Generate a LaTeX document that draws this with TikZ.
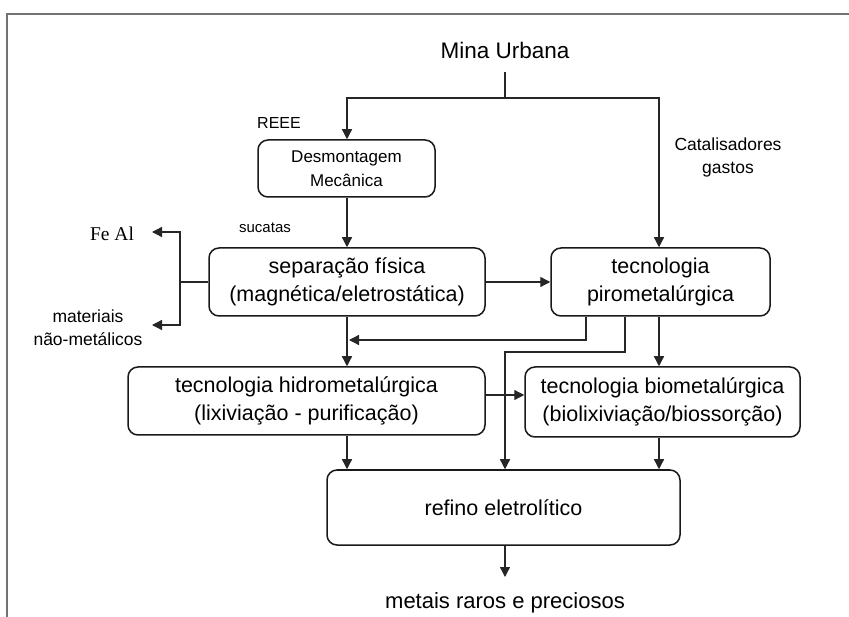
\documentclass[tikz,border=0pt]{standalone}
\usepackage{fontspec}
\setmainfont{Liberation Sans}
\newfontfamily\serifFe{Liberation Serif}
\usetikzlibrary{arrows.meta}
\begin{document}
\begin{tikzpicture}[x=1pt,y=-1pt,
  box/.style={draw=black!90,line width=1.5pt,rounded corners=10pt,align=center,inner sep=0pt,font=\fontsize{21.5}{28}\selectfont},
  smallbox/.style={box,font=\fontsize{17}{24}\selectfont},
  lbl/.style={inner sep=0pt,align=center,font=\fontsize{17.5}{23}\selectfont},
  conn/.style={draw=black!85,line width=1.3pt},
  arr/.style={conn,-{Triangle[length=10pt,width=10pt]}}]
\useasboundingbox (0,0) rectangle (849,617);
\fill[white] (0,0) rectangle (849,617);
% frame
\draw[black!55,line width=2pt] (7,617) -- (7,14) -- (849,14);
% nodes
\node[lbl,font=\fontsize{22.5}{26}\selectfont] (mina) at (505,50) {Mina Urbana};
\node[lbl,font=\fontsize{16}{20}\selectfont] (reee) at (279,123) {REEE};
\node[lbl] (cat) at (728,157) {Catalisadores\\gastos};
\node[lbl,font=\fontsize{15}{20}\selectfont] (suc) at (265,228) {sucatas};
\node[lbl,font=\serifFe\fontsize{19.5}{22}\selectfont] (feal) at (112,234) {Fe Al};
\node[lbl] (mat) at (88,328) {materiais\\não-metálicos};
\node[smallbox,minimum width=177pt,minimum height=57pt] (desm) at (346.5,168.5) {Desmontagem\\Mecânica};
\node[box,minimum width=276pt,minimum height=68pt] (sep) at (347,282) {separação física\\(magnética/eletrostática)};
\node[box,minimum width=219pt,minimum height=68pt] (piro) at (660.5,282) {tecnologia\\pirometalúrgica};
\node[box,minimum width=357pt,minimum height=68pt] (hidro) at (306.5,401) {tecnologia hidrometalúrgica\\(lixiviação - purificação)};
\node[box,minimum width=275pt,minimum height=70pt] (bio) at (662.5,402) {tecnologia biometalúrgica\\(biolixiviação/biossorção)};
\node[box,minimum width=353pt,minimum height=75pt] (ref) at (503.5,507.5) {refino eletrolítico};
\node[lbl,font=\fontsize{22}{26}\selectfont] (met) at (505,603) {metais raros e preciosos};
% coordinates
\coordinate (mtop) at (505,72);
\coordinate (jL) at (347,98);
\coordinate (jR) at (659,98);
\coordinate (lj) at (180,282);
\coordinate (fe) at (152,232);
\coordinate (mt) at (152,325);
\coordinate (a1) at (586,340);
\coordinate (a2) at (349,340);
\coordinate (b1) at (625,352);
\coordinate (b2) at (505,352);
\coordinate (out) at (505,577);
% connectors
\draw[conn] (mtop) -- (mtop |- jL);
\draw[arr] (jR) -- (jL) -- (desm.north -| jL);
\draw[arr] (jL) -- (jR) -- (piro.north -| jR);
\draw[arr] (desm.south -| jL) -- (sep.north -| jL);
\draw[arr] (sep.east) -- (piro.west);
\draw[conn] (sep.west) -- (lj);
\draw[arr] (lj) |- (fe);
\draw[arr] (lj) |- (mt);
\draw[arr] (sep.south -| jL) -- (hidro.north -| jL);
\draw[arr] (piro.south -| a1) -- (a1) -- (a2);
\draw[arr] (piro.south -| b1) -- (b1) -- (b2) -- (ref.north -| b2);
\draw[arr] (piro.south -| jR) -- (bio.north -| jR);
\draw[arr] ([yshift=6pt]hidro.east) -- ([yshift=6pt]hidro.east -| bio.west);
\draw[arr] (hidro.south -| jL) -- (ref.north -| jL);
\draw[arr] (bio.south -| jR) -- (ref.north -| jR);
\draw[arr] (ref.south -| b2) -- (out);
\end{tikzpicture}
\end{document}
